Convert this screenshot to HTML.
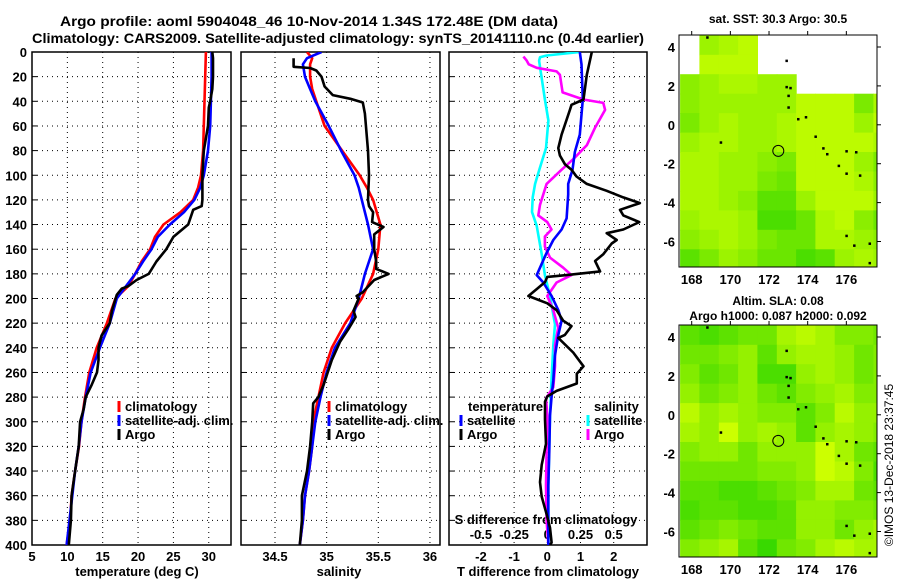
<!DOCTYPE html>
<html><head><meta charset="utf-8"><style>
html,body{margin:0;padding:0;background:#fff;}
svg{display:block;font-family:"Liberation Sans",sans-serif;font-weight:bold;}
</style></head><body>
<svg id="chart" width="900" height="580" viewBox="0 0 900 580" xmlns="http://www.w3.org/2000/svg">
<defs>
<clipPath id="cp1"><rect x="33" y="52" width="198" height="493"/></clipPath>
<clipPath id="cp2"><rect x="241" y="52" width="199" height="493"/></clipPath>
<clipPath id="cp3"><rect x="449" y="52" width="198" height="493"/></clipPath>
<clipPath id="cm1"><rect x="679" y="35" width="198" height="232"/></clipPath>
<clipPath id="cm2"><rect x="679" y="325" width="198" height="232"/></clipPath>
</defs>
<text x="309" y="26" font-size="14" text-anchor="middle" textLength="498" lengthAdjust="spacingAndGlyphs">Argo profile: aoml 5904048_46 10-Nov-2014 1.34S 172.48E (DM data)</text>
<text x="338" y="43" font-size="14" text-anchor="middle" textLength="612" lengthAdjust="spacingAndGlyphs">Climatology: CARS2009. Satellite-adjusted climatology: synTS_20141110.nc (0.4d earlier)</text>
<text x="778" y="23" font-size="12" text-anchor="middle">sat. SST: 30.3 Argo: 30.5</text>
<text x="778" y="305" font-size="12" text-anchor="middle">Altim. SLA: 0.08</text>
<text x="778" y="320" font-size="12" text-anchor="middle">Argo h1000: 0.087 h2000: 0.092</text>
<text transform="translate(893,465) rotate(-90)" font-size="12" font-weight="normal" text-anchor="middle">©IMOS 13-Dec-2018 23:37:45</text>
<g id="g"></g>
</svg>
<script>
// ---------- data ----------
const depthTicks = [0,20,40,60,80,100,120,140,160,180,200,220,240,260,280,300,320,340,360,380,400];
const tempTicks = [5,10,15,20,25,30];
const salTicks = [34.5,35,35.5,36];
const tdiffTicks = [-2,-1,0,1,2];
const sdiffTicks = [-0.5,-0.25,0,0.25,0.5];
const sdiffTickLabels = ["-0.5","-0.25","0","0.25","0.5"];
const lonTicks = [168,170,172,174,176];
const latTicks = [4,2,0,-2,-4,-6];

const climDepth = [0,20,40,60,80,100,110,120,130,140,150,160,170,180,190,200,220,240,260,280,300,320,340,360,380,400];
const climTemp  = [29.6,29.5,29.4,29.3,29.2,28.9,28.5,27.8,26.0,23.6,22.4,21.7,20.5,19.6,18.6,16.8,15.6,14.15,13.1,12.5,12.0,11.65,11.1,10.6,10.4,9.9];
const satTemp   = [30.4,30.4,30.3,30.2,29.9,29.3,28.8,27.95,26.5,24.5,22.8,21.9,20.7,19.6,18.3,17.0,16.0,14.6,13.3,12.6,12.0,11.6,11.1,10.7,10.3,9.9];
const argoTDepth = [0,5,10,20,30,40,45,60,80,100,120,125,128,140,150,160,170,180,185,190,192,197,210,220,230,240,250,260,270,280,290,300,320,340,360,380,400];
const argoTemp   = [30.5,30.6,30.6,30.6,30.5,30.2,30.0,29.9,29.3,29.1,29.1,29.0,27.8,27.1,25.0,24.0,22.6,21.5,19.8,18.6,17.7,17.0,16.3,16.0,14.85,14.4,14.4,14.2,13.45,12.6,12.3,11.8,11.6,11.1,10.6,10.5,10.2];

const climSalDepth = [0,5,10,20,30,40,60,80,100,110,120,140,160,180,200,220,240,260,280,300,320,340,360,380,400];
const climSal = [34.81,34.86,34.84,34.84,34.86,34.90,34.98,35.15,35.32,35.39,35.45,35.52,35.50,35.45,35.34,35.18,35.05,34.97,34.92,34.87,34.86,34.83,34.79,34.77,34.74];
const satSal  = [34.95,34.81,34.77,34.79,34.84,34.89,35.02,35.14,35.27,35.31,35.34,35.40,35.45,35.37,35.31,35.23,35.08,35.00,34.94,34.89,34.86,34.83,34.79,34.77,34.74];
const argoSDepth = [5,12,13,15,20,28,35,38,41,50,80,100,120,125,130,138,142,148,160,170,176,180,185,195,198,200,210,215,225,235,250,270,280,285,300,320,340,360,380,400];
const argoSal = [34.68,34.68,34.84,34.90,34.95,34.98,35.06,35.23,35.35,35.37,35.40,35.41,35.40,35.41,35.45,35.44,35.55,35.46,35.46,35.48,35.48,35.60,35.46,35.35,35.29,35.31,35.26,35.28,35.21,35.13,35.05,34.97,34.92,34.87,34.86,34.84,34.81,34.76,34.76,34.74];

const argoTdDepth = [0,3.7,18.5,38.5,42.8,47,67,78,84,91,95.5,101,107,112.6,118,122.6,128,132.6,138,144,147,152.5,155.4,164,169.6,178,181,182.5,186.7,192.4,198,203.9,209.5,218,222.4,229.5,232,243.8,255,261,269,275,279.4,283.7,298,318,335,349,360.7,375,386,398,400];
const argoTdiff   = [1.34,1.31,1.19,1.09,0.73,0.68,0.43,0.33,0.38,0.53,0.73,0.88,1.19,1.79,2.29,2.79,2.19,2.29,2.77,2.29,1.79,2.09,1.94,1.69,1.44,1.59,0.58,0.0,-0.07,-0.32,-0.57,0.0,0.28,0.48,0.73,0.53,0.33,0.78,1.09,0.89,0.89,0.28,0.0,-0.07,-0.07,-0.04,-0.17,-0.22,-0.17,-0.02,0.08,0.13,0.08];
const satTdDepth = [0,10,38.5,67,81,95.5,107,115.5,135,144,152.5,164,175,181,187,198,209.5,218,229.5,246.6,266.6,279.4,295,323.6,352,400];
const satTdiff   = [0.98,1.03,1.07,0.98,0.83,0.76,0.63,0.63,0.58,0.43,0.18,-0.04,-0.22,-0.32,-0.12,0.13,0.33,0.43,0.33,0.23,0.18,0.13,0.08,0.06,0.03,0.03];
const satSdDepth = [0,2.8,4.3,7.1,38.5,55.6,78,95.5,107,118,129.7,141,164,181,198,221,238,266.6,295,352,400];
const satSdiff   = [0.245,-0.005,-0.055,-0.062,-0.018,0.008,-0.01,-0.06,-0.092,-0.11,-0.115,-0.08,-0.042,-0.018,0.02,0.058,0.045,0.032,0.02,0.008,0.008];
const argoSdDepth = [3.7,7,10,12.8,15.7,18.5,32.8,38.5,41.3,47,61.3,75.5,87,95.5,107,115.5,124,132.6,138,144,149.7,158,166.8,175,181,187,198,209.5,223.8,238,255,272,281,295,323.6,352,380.6,400];
const argoSdiff   = [-0.18,-0.155,-0.14,-0.08,0.07,0.095,0.115,0.272,0.422,0.435,0.36,0.298,0.195,0.108,-0.005,-0.03,-0.055,-0.068,0.0,0.032,-0.018,-0.018,0.02,0.12,0.182,0.07,0.0,0.045,0.082,0.058,0.058,0.045,-0.01,-0.0,-0.005,-0.01,-0.005,0.008];

// map grids: 1-degree cells from lon 167.4, lat 4.6 downward; -1 = no data
const sstGrid = [
 [-1,6,7,8,-1,-1,-1,-1,-1,-1,-1],
 [-1,8,8,8,-1,-1,-1,-1,-1,-1,-1],
 [5,6,7,7,6,6,-1,-1,-1,-1,-1],
 [5,6,6,6,6,6,8,8,8,4,7],
 [4,6,7,6,6,7,8,8,8,6,8],
 [6,7,7,6,6,7,8,8,8,8,7],
 [7,7,6,6,5,4,8,8,8,6,4],
 [7,7,6,6,4,3,8,8,8,7,5],
 [7,7,6,5,2,2,6,8,8,8,6],
 [6,7,7,6,1,1,3,7,8,5,3],
 [5,6,7,6,4,3,3,7,7,6,5],
 [2,4,6,5,3,3,1,2,6,7,6]];
const slaGrid = [
 [3,2,3,4,4,7,8,7,5,5,4],
 [4,4,5,6,3,6,7,7,6,4,5],
 [5,3,4,6,2,2,6,7,6,4,5],
 [6,4,5,6,4,3,5,6,7,5,5],
 [8,6,7,6,5,5,3,5,8,6,6],
 [7,6,9,6,7,6,3,6,7,6,5],
 [5,6,6,4,6,6,6,9,7,4,3],
 [4,4,4,4,5,5,6,9,8,5,2],
 [3,3,2,2,3,4,5,7,7,4,3],
 [2,3,3,2,2,3,6,6,5,5,4],
 [3,4,5,4,3,3,6,6,4,6,7],
 [5,6,7,3,1,4,5,7,8,7,7]];
const islandLon = [172.9,172.9,173.1,173.0,173.0,173.5,173.9,174.4,174.8,175.0,175.6,176.0,176.0,176.5,176.7,169.5,176.0,176.4,177.2,177.2,168.8];
const islandLat = [3.3,1.95,1.9,1.5,0.9,0.3,0.4,-0.6,-1.2,-1.5,-2.1,-2.5,-1.35,-1.4,-2.6,-0.9,-5.7,-6.2,-6.1,-7.1,4.5];
const floatLon = 172.48;
const floatLat = -1.34;

// ---------- helpers ----------
const NS = "http://www.w3.org/2000/svg";
const root = document.getElementById("g");
function mk(tag, attrs, parent) {
  const e = document.createElementNS(NS, tag);
  for (const k in attrs) e.setAttribute(k, attrs[k]);
  (parent || root).appendChild(e);
  return e;
}
const yD = d => 52 + d * (493 / 400);
const x1 = t => 32 + (t - 5) * 7.07;
const x2 = s => 275 + (s - 34.5) * 103.3;
const x3 = t => 547.3 + t * 33.2;
const x3s = s => x3(s * 4);

function panel(name, left, right, xTicks, xf, labels) {
  const grp = mk("g", {});
  
  
  depthTicks.forEach(d => {
    if (d > 0 && d < 400) {
      const gl = mk("line", {x1: left, x2: right, y1: yD(d), y2: yD(d), stroke: "#000", "stroke-width": 1, "stroke-dasharray": "1,4"}, grp);
      
      
    }
    const tk = mk("line", {x1: left, x2: left + 5, y1: yD(d), y2: yD(d), stroke: "#000", "stroke-width": 1}, grp);
    
    
  });
  xTicks.forEach(v => {
    const x = xf(v);
    const gl = mk("line", {x1: x, x2: x, y1: 52, y2: 545, stroke: "#000", "stroke-width": 1, "stroke-dasharray": "1,4"}, grp);
    
    
    if (labels) {
      const t = mk("text", {x: x, y: 561, "font-size": 13, "text-anchor": "middle"}, grp);
      t.textContent = String(v);
      
      
    }
  });
  const fr = mk("rect", {x: left, y: 52, width: right - left, height: 493, fill: "none", stroke: "#000", "stroke-width": 1.5}, grp);
  
  
  return grp;
}
function line(depths, vals, xf, color, clip, name, w) {
  const pts = depths.map((d, i) => xf(vals[i]).toFixed(1) + "," + yD(d).toFixed(1)).join(" ");
  const p = mk("polyline", {points: pts, fill: "none", stroke: color, "stroke-width": w || 2.6, "stroke-linejoin": "round", "clip-path": "url(#" + clip + ")"});
  
  
}
function txt(x, y, s, size, anchor, name) {
  const t = mk("text", {x: x, y: y, "font-size": size, "text-anchor": anchor || "start"});
  t.textContent = s;
  
  
  return t;
}
function legendEntry(x, y, color, label, name) {
  const b = mk("line", {x1: x, x2: x, y1: y - 10, y2: y + 1, stroke: color, "stroke-width": 3});
  
  
  txt(x + 6, y, label, 13, "start", name);
}

// ---------- panels ----------
panel("temperature-panel", 32, 231, tempTicks, x1, true);
panel("salinity-panel", 241, 440, salTicks, x2, true);
panel("difference-panel", 449, 647, tdiffTicks, x3, true);

depthTicks.forEach(d => {
  txt(27, yD(d) + 5, String(d), 13, "end", "depth-tick-label");
});
txt(137, 576, "temperature (deg C)", 13, "middle", "temperature-axis-title");
txt(339, 576, "salinity", 13, "middle", "salinity-axis-title");
txt(548, 576, "T difference from climatology", 13, "middle", "t-difference-axis-title");
txt(546, 524, "S difference from climatology", 13, "middle", "s-difference-axis-title");
sdiffTicks.forEach((v, i) => txt(x3s(v), 539, sdiffTickLabels[i], 13, "middle", "s-difference-tick-label"));

line(climDepth, climTemp, x1, "#ff0000", "cp1", "temperature-climatology-line");
line(climDepth, satTemp, x1, "#0000ff", "cp1", "temperature-satellite-line");
line(argoTDepth, argoTemp, x1, "#000000", "cp1", "temperature-argo-line");

line(climSalDepth, climSal, x2, "#ff0000", "cp2", "salinity-climatology-line");
line(climSalDepth, satSal, x2, "#0000ff", "cp2", "salinity-satellite-line");
line(argoSDepth, argoSal, x2, "#000000", "cp2", "salinity-argo-line");

line(satSdDepth, satSdiff, x3s, "#00ffff", "cp3", "s-diff-satellite-line");
line(argoSdDepth, argoSdiff, x3s, "#ff00ff", "cp3", "s-diff-argo-line");
line(satTdDepth, satTdiff, x3, "#0000ff", "cp3", "t-diff-satellite-line");
line(argoTdDepth, argoTdiff, x3, "#000000", "cp3", "t-diff-argo-line");

legendEntry(119, 411, "#ff0000", "climatology", "legend-temp-climatology");
legendEntry(119, 425, "#0000ff", "satellite-adj. clim.", "legend-temp-satellite");
legendEntry(119, 439, "#000000", "Argo", "legend-temp-argo");
legendEntry(329, 411, "#ff0000", "climatology", "legend-sal-climatology");
legendEntry(329, 425, "#0000ff", "satellite-adj. clim.", "legend-sal-satellite");
legendEntry(329, 439, "#000000", "Argo", "legend-sal-argo");
txt(468, 411, "temperature", 13, "start", "legend-temperature-heading");
legendEntry(461, 425, "#0000ff", "satellite", "legend-tdiff-satellite");
legendEntry(461, 439, "#000000", "Argo", "legend-tdiff-argo");
txt(594, 411, "salinity", 13, "start", "legend-salinity-heading");
legendEntry(588, 425, "#00ffff", "satellite", "legend-sdiff-satellite");
legendEntry(588, 439, "#ff00ff", "Argo", "legend-sdiff-argo");

// ---------- maps ----------
function colorOf(v, off) {
  const t = Math.min(1, (v + off) / (9 + off));
  const r = Math.round(10 + 194 * t), g = Math.round(205 + 50 * t);
  return "rgb(" + r + "," + g + ",0)";
}
function drawMap(grid, top, clip, name, off) {
  const L = 679, R = 877, B = top + 232;
  const mx = lon => 691.7 + (lon - 168) * 19.33;
  const my = lat => top + 12 + (4 - lat) * 19.45;
  const grp = mk("g", {"clip-path": "url(#" + clip + ")"});
  
  
  grid.forEach((row, j) => row.forEach((v, i) => {
    if (v < 0) return;
    const x0 = mx(167.4 + i), y0 = my(4.6 - j);
    const c = mk("rect", {x: x0.toFixed(1), y: y0.toFixed(1), width: (mx(168.4 + i) - x0 + 0.6).toFixed(1), height: (my(3.6 - j) - y0 + 0.6).toFixed(1), fill: colorOf(v, off)}, grp);
    
    
  }));
  islandLon.forEach((lon, k) => {
    const d = mk("rect", {x: mx(lon) - 1, y: my(islandLat[k]) - 1, width: 2.5, height: 2.5, fill: "#000"}, grp);
    
    
  });
  const fc = mk("circle", {cx: mx(floatLon), cy: my(floatLat), r: 5.5, fill: "none", stroke: "#000", "stroke-width": 1});
  
  
  const fr = mk("rect", {x: L, y: top, width: R - L, height: 232, fill: "none", stroke: "#000", "stroke-width": 1});
  
  
  lonTicks.forEach(lon => {
    const x = mx(lon);
    const t1 = mk("line", {x1: x, x2: x, y1: top - 4, y2: top, stroke: "#000"});
    
    
    txt(x, B + 17, String(lon), 13, "middle", "lon-tick-label");
  });
  latTicks.forEach(lat => {
    const y = my(lat);
    const t1 = mk("line", {x1: R, x2: R + 4, y1: y, y2: y, stroke: "#000"});
    
    
    txt(675, y + 5, String(lat), 13, "end", "lat-tick-label");
  });
}
drawMap(sstGrid, 35, "cm1", "sst-map", 3);
drawMap(slaGrid, 325, "cm2", "sla-map", 1.5);
</script>
</body></html>
